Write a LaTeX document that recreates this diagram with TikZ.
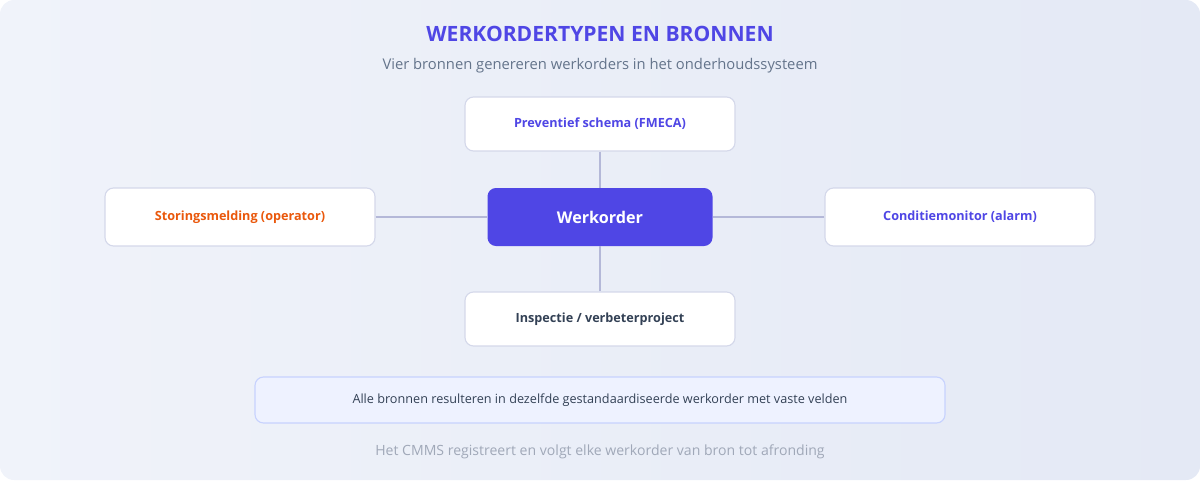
\documentclass[tikz,border=0pt]{standalone}
\usepackage{fontspec}
\setmainfont{Open Sans}
\definecolor{indigo}{HTML}{4F46E5}
\definecolor{boxline}{HTML}{D4D8EA}
\definecolor{conn}{HTML}{B4B8D8}
\definecolor{sub}{HTML}{64748B}
\definecolor{foot}{HTML}{A0A8B8}
\definecolor{orng}{HTML}{EA580C}
\definecolor{dark}{HTML}{334155}
\definecolor{bgA}{HTML}{F0F3FA}
\definecolor{bgB}{HTML}{E4E9F5}
\definecolor{banfill}{HTML}{EEF2FF}
\definecolor{banline}{HTML}{C7D2FE}
\begin{document}
\begin{tikzpicture}[x=0.025cm,y=-0.025cm,
  srcbox/.style={draw=boxline,line width=0.8pt,fill=white,rounded corners=6pt,minimum width=270*0.025cm,minimum height=58*0.025cm,font=\fontsize{9}{11}\selectfont\bfseries},
  link/.style={draw=conn,line width=1.2pt}]
\shade[left color=bgA,right color=bgB,rounded corners=10pt] (0,0) rectangle (1200,480);
\useasboundingbox (0,0) rectangle (1200,480);
\node[font=\fontsize{15}{18}\selectfont\bfseries,text=indigo] (title) at (600,34) {WERKORDERTYPEN EN BRONNEN};
\node[font=\fontsize{10.5}{13}\selectfont,text=sub] (subt) at (600,66) {Vier bronnen genereren werkorders in het onderhoudssysteem};
\node[srcbox,text=indigo,minimum height=54*0.025cm] (top) at (600,124) {Preventief schema (FMECA)};
\node[srcbox,text=orng] (left) at (240,217) {Storingsmelding (operator)};
\node[srcbox,text=indigo] (right) at (960,217) {Conditiemonitor (alarm)};
\node[srcbox,text=dark,minimum height=54*0.025cm] (bot) at (600,319) {Inspectie / verbeterproject};
\node[fill=indigo,rounded corners=6pt,minimum width=225*0.025cm,minimum height=58*0.025cm,text=white,font=\fontsize{11.5}{14}\selectfont\bfseries] (wo) at (600,217) {Werkorder};
\draw[link] (top) -- (wo);
\draw[link] (bot) -- (wo);
\draw[link] (left) -- (wo);
\draw[link] (right) -- (wo);
\node[draw=banline,fill=banfill,line width=0.8pt,rounded corners=6pt,minimum width=690*0.025cm,minimum height=46*0.025cm,text=dark,font=\fontsize{9}{11}\selectfont] (banner) at (600,400) {Alle bronnen resulteren in dezelfde gestandaardiseerde werkorder met vaste velden};
\node[font=\fontsize{10}{12}\selectfont,text=foot] (footer) at (600,452) {Het CMMS registreert en volgt elke werkorder van bron tot afronding};
\end{tikzpicture}
\end{document}
